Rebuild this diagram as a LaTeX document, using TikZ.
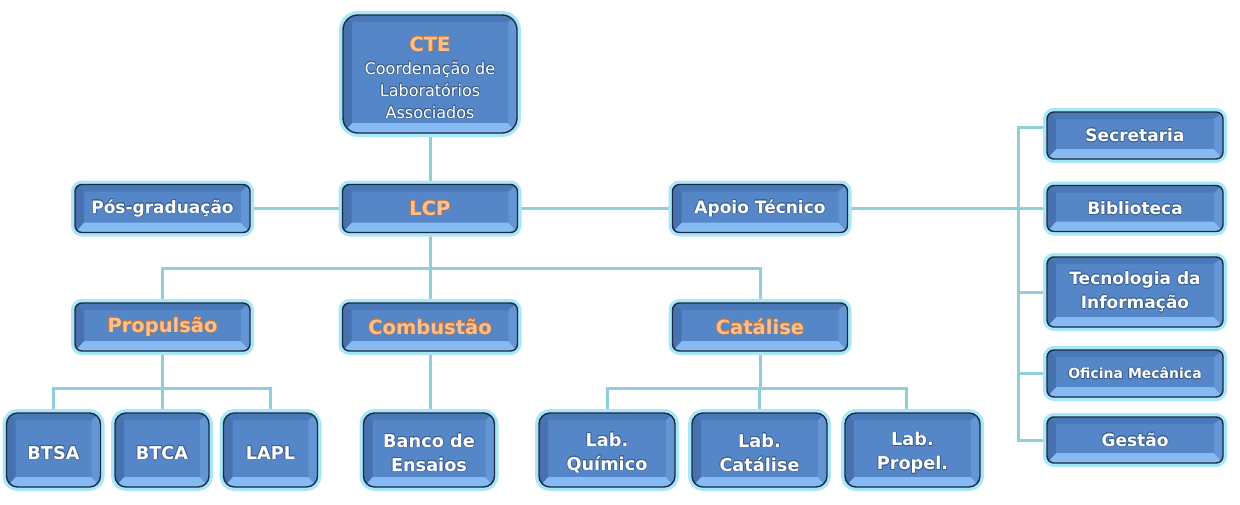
\documentclass[tikz,border=0pt]{standalone}
\usepackage{fontspec}
\setmainfont{DejaVu Sans}
\usepackage{contour}
\contourlength{0.6pt}
\contournumber{16}
\usetikzlibrary{backgrounds}
\definecolor{glow}{HTML}{A9E6F6}
\definecolor{boxblue}{HTML}{5586C8}
\definecolor{boxdark}{HTML}{1B2A45}
\definecolor{bvtop}{HTML}{4B79B8}
\definecolor{bvbot}{HTML}{86BAF3}
\definecolor{bvleft}{HTML}{4673B0}
\definecolor{bvright}{HTML}{6496D6}
\definecolor{conn}{HTML}{92CDDC}
\definecolor{ttl}{HTML}{FBC08F}
\definecolor{halow}{HTML}{3A5F92}
\definecolor{haloo}{HTML}{B8784A}
\newcommand\wt[1]{\contour{halow}{#1}}
\newcommand\ot[1]{{\fontsize{19.5}{24}\selectfont\bfseries\contour{haloo}{\color{ttl}#1}}}
\tikzset{
  orgbox/.style={rounded corners=#1, fill=boxblue, draw=boxdark, line width=1.4pt,
    preaction={draw=glow, line width=8pt},
    inner sep=0pt, text=white, align=center,
    font=\fontsize{17}{24}\selectfont\bfseries,
    path picture={
      \path (path picture bounding box.north west) coordinate (pA)
            (path picture bounding box.north east) coordinate (pB)
            (path picture bounding box.south east) coordinate (pC)
            (path picture bounding box.south west) coordinate (pD);
      \path ([shift={(9pt,-7pt)}]pA) coordinate (qa)
            ([shift={(-9pt,-7pt)}]pB) coordinate (qb)
            ([shift={(-9pt,10pt)}]pC) coordinate (qc)
            ([shift={(9pt,10pt)}]pD) coordinate (qd);
      \fill[bvtop, sharp corners] (pA)--(pB)--(qb)--(qa)--cycle;
      \fill[bvbot, sharp corners] (pD)--(pC)--(qc)--(qd)--cycle;
      \fill[bvleft, sharp corners] (pA)--(qa)--(qd)--(pD)--cycle;
      \fill[bvright, sharp corners] (pB)--(qb)--(qc)--(pC)--cycle;
    }},
  orgbox/.default=7pt,
  rowbox/.style={orgbox, minimum width=175pt, minimum height=48pt},
  labbox/.style={orgbox=11pt, minimum height=74pt, font=\fontsize{17.7}{24}\selectfont\bfseries},
  link/.style={draw=conn, line width=3pt}
}
\begin{document}
\begin{tikzpicture}[x=1pt,y=-1pt]
\useasboundingbox (0,0) rectangle (1240,504);

% top
\node[orgbox=15pt, minimum width=174pt, minimum height=118pt,
      font=\fontsize{16}{22}\selectfont] (cte) at (430,74)
  {\rule{0pt}{22pt}\ot{CTE}\\[1pt]\wt{Coordenação de}\\\wt{Laboratórios}\\\wt{Associados}};
\node[rowbox] (lcp) at (430,208.5) {\ot{LCP}};
\node[rowbox] (pos) at (162.5,208.5) {\wt{Pós-graduação}};
\node[rowbox] (apoio) at (760,208.5) {\wt{Apoio Técnico}};

% second level
\node[rowbox] (prop) at (162.5,327) {\ot{Propulsão}};
\node[rowbox] (comb) at (430,327) {\ot{Combustão}};
\node[rowbox] (cat) at (760,327) {\ot{Catálise}};

% bottom
\node[labbox, minimum width=94pt] (btsa) at (53.5,450) {\rule{0pt}{19pt}\wt{BTSA}};
\node[labbox, minimum width=94pt] (btca) at (162,450) {\rule{0pt}{19pt}\wt{BTCA}};
\node[labbox, minimum width=94pt] (lapl) at (270.5,450) {\rule{0pt}{19pt}\wt{LAPL}};
\node[labbox, minimum width=131pt] (banco) at (429,450) {\rule{0pt}{19.5pt}\wt{Banco de}\\\wt{Ensaios}};
\node[labbox, minimum width=136pt] (labq) at (607,450) {\rule{0pt}{19.5pt}\wt{Lab.}\\\wt{Químico}};
\node[labbox, minimum width=135pt] (labc) at (759.5,450) {\rule{0pt}{19.5pt}\wt{Lab.}\\\wt{Catálise}};
\node[labbox, minimum width=135pt] (labp) at (912.5,450) {\rule{0pt}{19.5pt}\wt{Lab.}\\\wt{Propel.}};

% right column
\node[rowbox, minimum width=176pt, minimum height=47pt] (sec) at (1135,135.5) {\wt{Secretaria}};
\node[rowbox, minimum width=176pt, minimum height=46pt] (bib) at (1135,208.5) {\wt{Biblioteca}};
\node[rowbox, minimum width=176pt, minimum height=70pt] (ti) at (1135,292) {\wt{Tecnologia da}\\\wt{Informação}};
\node[rowbox, minimum width=176pt, minimum height=47pt,
      font=\fontsize{14}{18}\selectfont\bfseries] (ofi) at (1135,373.5) {\wt{Oficina Mecânica}};
\node[rowbox, minimum width=176pt, minimum height=46pt] (gest) at (1135,440) {\wt{Gestão}};

\coordinate (bus) at (1018,0);
\coordinate (midA) at (430,268);
\coordinate (midB) at (162.5,388);
\coordinate (midC) at (760,388);

\begin{scope}[on background layer]
  \draw[link] (cte.south) -- (lcp.north);
  \draw[link] (pos.east) -- (lcp.west);
  \draw[link] (lcp.east) -- (apoio.west);
  \draw[link] (apoio.east) -- (bib.west);
  \draw[link] ([yshift=8pt]sec.west) -- ([yshift=8pt]sec.west -| bus) -- (gest.west -| bus) -- (gest.west);
  \draw[link] (ti.west -| bus) -- (ti.west);
  \draw[link] (ofi.west -| bus) -- (ofi.west);
  \draw[link] (lcp.south) -- (comb.north);
  \draw[link] (prop.north) |- (midA) -| (cat.north);
  \draw[link] (prop.south) -- (midB);
  \draw[link] (btsa.north) |- (midB) -| (lapl.north);
  \draw[link] (btca.north) -- (btca.north |- midB);
  \draw[link] (comb.south) -- (comb.south |- banco.north);
  \draw[link] (cat.south) -- (midC);
  \draw[link] (labq.north) |- (midC) -| ([xshift=-6pt]labp.north);
  \draw[link] (labc.north) -- (labc.north |- midC);
\end{scope}
\end{tikzpicture}
\end{document}
